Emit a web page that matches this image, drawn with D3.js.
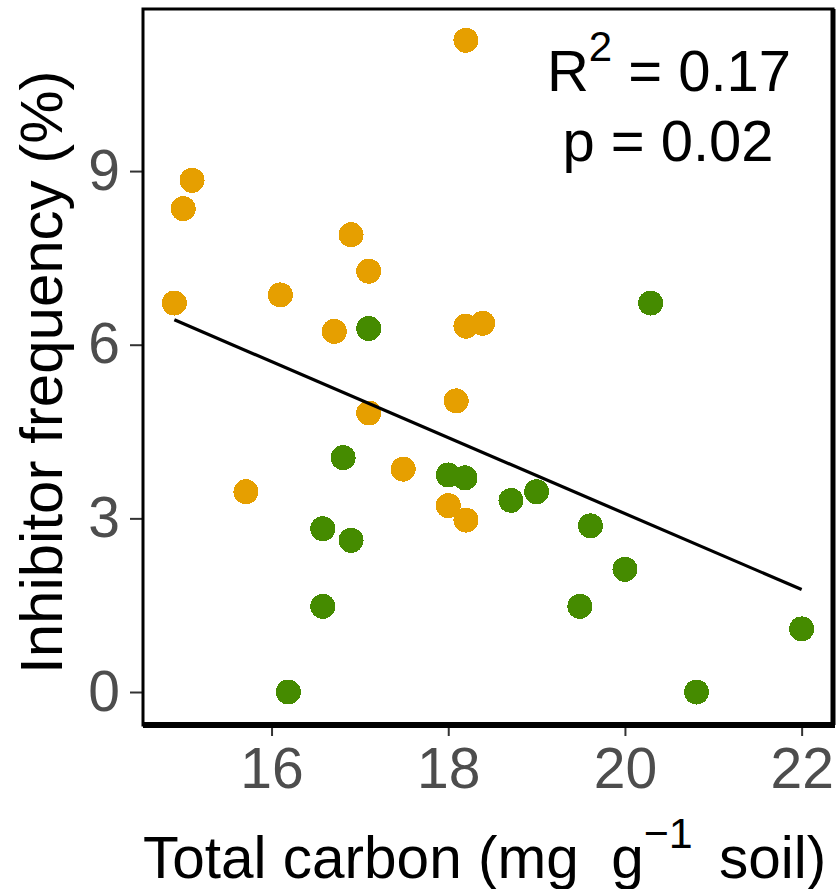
<!DOCTYPE html>
<html>
<head>
<meta charset="utf-8">
<script src="https://cdn.jsdelivr.net/npm/d3@7"></script>
<style>
  body { margin: 0; background: #fff; }
  text { font-family: "Liberation Sans", Arial, sans-serif; }
</style>
</head>
<body>
<div id="chart"></div>
<script>
// orange points (group 1)
var orangeX = [18.20, 15.10, 15.00, 16.90, 17.10, 14.90, 16.10, 16.71, 18.20, 18.39, 17.10, 18.09, 17.49, 18.00, 18.20, 15.71];
var orangeY = [11.26, 8.84, 8.35, 7.90, 7.27, 6.72, 6.86, 6.23, 6.32, 6.37, 4.82, 5.03, 3.85, 3.22, 2.97, 3.46];
// green points (group 2)
var greenX = [17.10, 16.81, 18.00, 18.19, 16.58, 16.90, 16.58, 16.19, 18.71, 19.00, 19.61, 20.00, 19.49, 20.81, 22.00, 20.29];
var greenY = [6.28, 4.05, 3.75, 3.70, 2.82, 2.62, 1.48, 0.00, 3.31, 3.46, 2.87, 2.12, 1.48, 0.00, 1.09, 6.72];
// fitted line end points
var fitX = [14.9, 22.0];
var fitY = [6.43, 1.77];

var xTicks = [16, 18, 20, 22];
var yTicks = [0, 3, 6, 9];

var W = 839, H = 889,
    margin = {top: 9, right: 6, bottom: 164, left: 143},
    width = W - margin.left - margin.right,
    height = H - margin.top - margin.bottom;

var svg = d3.select("#chart").append("svg")
    .attr("width", W)
    .attr("height", H);

var g = svg.append("g").attr("transform", "translate(" + margin.left + "," + margin.top + ")");

var x = d3.scaleLinear().domain([14.545, 22.355]).range([0, width]);
var y = d3.scaleLinear().domain([-0.57, 11.8]).range([height, 0]);

var points = [];
orangeX.forEach(function(v, i) { points.push({x: v, y: orangeY[i], c: "#E69F00"}); });
greenX.forEach(function(v, i) { points.push({x: v, y: greenY[i], c: "#458B00"}); });

// axes
var xAxis = g.append("g")
    .attr("transform", "translate(0," + height + ")")
    .call(d3.axisBottom(x).tickValues(xTicks).tickSize(11).tickPadding(12).tickFormat(d3.format("d")));
var yAxis = g.append("g")
    .call(d3.axisLeft(y).tickValues(yTicks).tickSize(13).tickPadding(10).tickFormat(d3.format("d")));

[xAxis, yAxis].forEach(function(a) {
  a.select(".domain").remove();
  a.selectAll(".tick line").attr("stroke", "#333").attr("stroke-width", 2);
  a.selectAll(".tick text").attr("fill", "#4D4D4D").style("font-size", "57px")
    .style("font-family", "'Liberation Sans', Arial, sans-serif");
});

// points
g.append("g").selectAll("circle")
    .data(points)
  .enter().append("circle")
    .attr("cx", function(d) { return x(d.x); })
    .attr("cy", function(d) { return y(d.y); })
    .attr("r", 12.5)
    .attr("fill", function(d) { return d.c; })
    .attr("shape-rendering", "crispEdges");

// fitted line
g.append("path")
    .datum(fitX.map(function(v, i) { return [v, fitY[i]]; }))
    .attr("fill", "none")
    .attr("stroke", "#000")
    .attr("stroke-width", 3.2)
    .attr("d", d3.line().x(function(d) { return x(d[0]); }).y(function(d) { return y(d[1]); }));

// panel border
g.append("rect")
    .attr("width", width).attr("height", height)
    .attr("fill", "none").attr("stroke", "#000").attr("stroke-width", 3);
g.append("line").attr("x1", 0).attr("x2", width + 2).attr("y1", height).attr("y2", height)
    .attr("stroke", "#000").attr("stroke-width", 6);
g.append("line").attr("x1", width).attr("x2", width).attr("y1", 0).attr("y2", height)
    .attr("stroke", "#000").attr("stroke-width", 5);

// annotation
var ann = g.append("text")
    .attr("x", 526)
    .attr("y", 82)
    .attr("text-anchor", "middle")
    .style("font-size", "58px");
ann.append("tspan").text("R");
ann.append("tspan").attr("dy", -30).style("font-size", "42px").text("2");
ann.append("tspan").attr("dy", 30).text(" = 0.17");

g.append("text")
    .attr("x", 525)
    .attr("y", 152)
    .attr("text-anchor", "middle")
    .style("font-size", "58px")
    .text("p = 0.02");

// axis titles
var xt = svg.append("text")
    .attr("x", 143)
    .attr("y", 878)
    .attr("text-anchor", "start")
    .style("font-size", "58.5px")
    .attr("xml:space", "preserve");
xt.append("tspan").text("Total carbon (mg  g");
xt.append("tspan").attr("dy", -30).style("font-size", "43px").text("\u22121");
xt.append("tspan").attr("dy", 30).attr("dx", 10).text(" soil)");

svg.append("text")
    .attr("transform", "translate(62,674) rotate(-90)")
    .attr("text-anchor", "start")
    .style("font-size", "60px")
    .text("Inhibitor frequency (%)");
</script>
</body>
</html>
